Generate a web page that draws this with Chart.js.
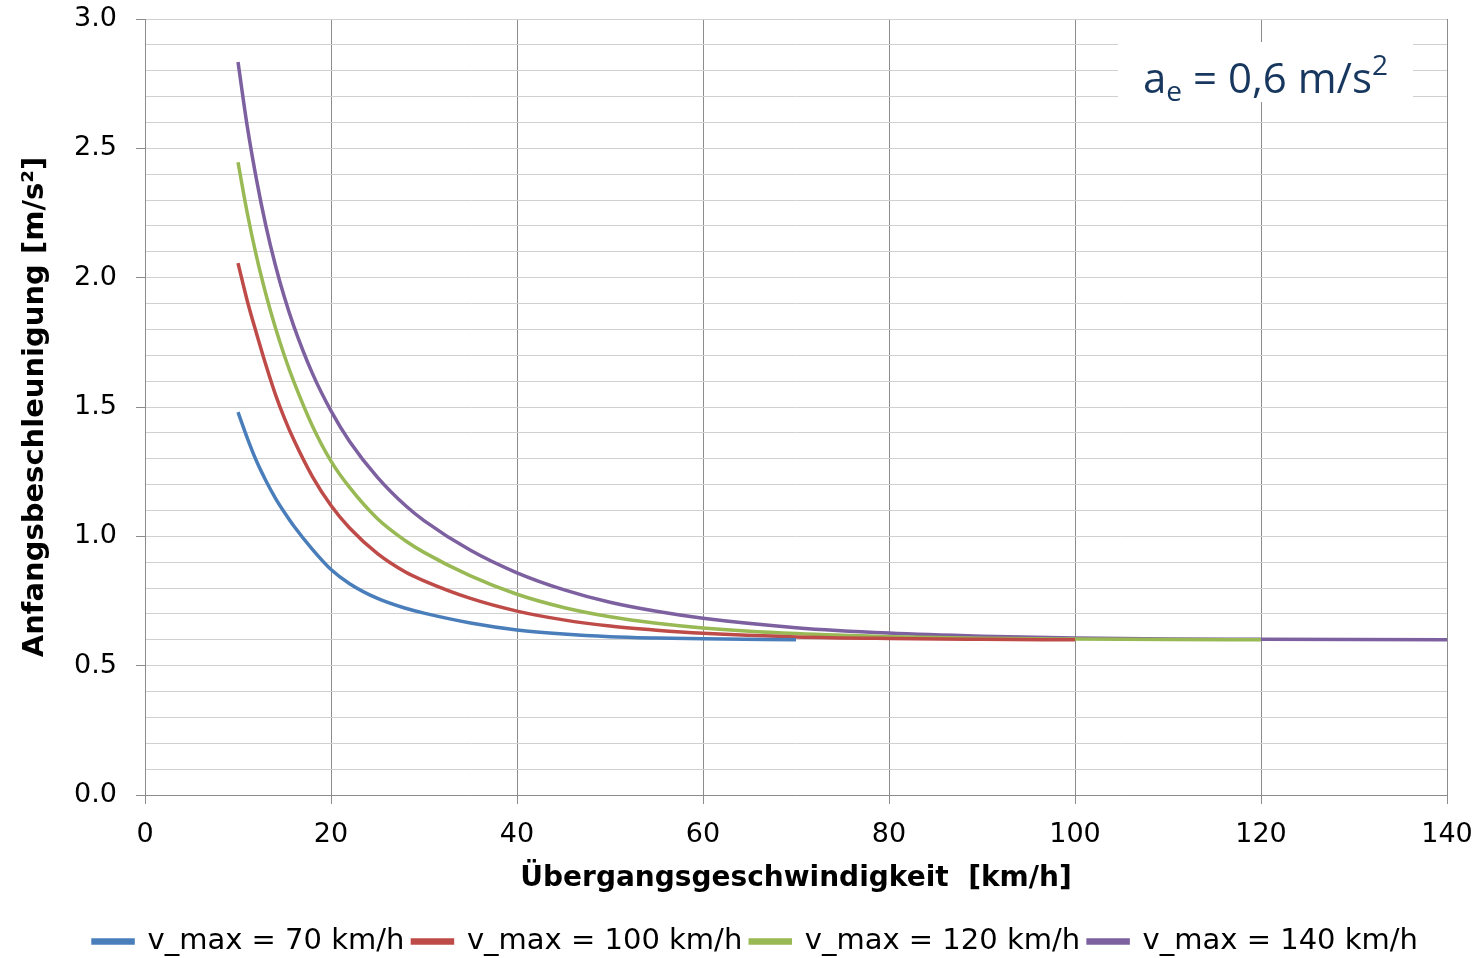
<!DOCTYPE html>
<html lang="de">
  <head>
    <meta charset="UTF-8" />
    <title>Anfangsbeschleunigung</title>
    <script src="https://cdn.jsdelivr.net/npm/chart.js"></script>
    <style>
      body { margin: 0; background: #fff; }
      #wrap { position: relative; width: 1478px; height: 958px; }
      #note {
        position: absolute; left: 1118px; top: 42px; width: 295px; height: 60px;
        background: #fff; color: #17375e; font-family: "Open Sans", sans-serif;
        font-size: 42px; line-height: 70px; text-align: center; overflow: visible;
      }
      #note sub { font-size: 28px; vertical-align: -8px; line-height: 0; }
      #note sup { font-size: 28px; vertical-align: 18px; line-height: 0; }
    </style>
  </head>
  <body>
    <div id="wrap">
      <canvas id="myChart" width="1478" height="958"></canvas>
      <div id="note">a<sub>e</sub> = 0,6 m/s<sup>2</sup></div>
    </div>
    <script>
      // Übergangsgeschwindigkeit [km/h]
      const speeds = [10, 11, 12, 13, 14, 15, 16, 18, 20, 22, 25, 28, 30, 35, 40, 45, 50, 55, 60, 70, 80, 90, 100, 110, 120, 130, 140];

      // Anfangsbeschleunigung [m/s²] je v_max
      const vmax70  = [1.480, 1.380, 1.290, 1.215, 1.149, 1.092, 1.040, 0.950, 0.872, 0.817, 0.760, 0.722, 0.703, 0.665, 0.638, 0.622, 0.612, 0.607, 0.604, 0.600];
      const vmax100 = [2.056, 1.910, 1.783, 1.662, 1.551, 1.456, 1.373, 1.231, 1.119, 1.032, 0.933, 0.862, 0.828, 0.760, 0.711, 0.677, 0.653, 0.637, 0.625, 0.611, 0.605, 0.602, 0.600];
      const vmax120 = [2.446, 2.249, 2.080, 1.936, 1.809, 1.697, 1.598, 1.427, 1.291, 1.189, 1.068, 0.983, 0.938, 0.847, 0.776, 0.725, 0.689, 0.664, 0.646, 0.624, 0.612, 0.606, 0.603, 0.601, 0.600];
      const vmax140 = [2.834, 2.584, 2.377, 2.200, 2.051, 1.923, 1.813, 1.630, 1.485, 1.367, 1.228, 1.119, 1.061, 0.946, 0.859, 0.794, 0.745, 0.710, 0.683, 0.647, 0.626, 0.614, 0.607, 0.603, 0.602, 0.601, 0.600];

      const labels = ["v_max = 70 km/h", "v_max = 100 km/h", "v_max = 120 km/h", "v_max = 140 km/h"];
      const colors = ["#4a7ebb", "#be4b48", "#98b954", "#7d60a0"];
      const series = [vmax70, vmax100, vmax120, vmax140];

      const yTicks = [0, 0.5, 1.0, 1.5, 2.0, 2.5, 3.0];

      function toPoints(values) {
        return values.map((v, i) => ({ x: speeds[i], y: v }));
      }

      const isMajor = (v) => yTicks.some((t) => Math.abs(t - v) < 1e-6);

      // Legende etwas tiefer und nach rechts setzen
      const legendShift = {
        id: "legendShift",
        afterLayout(chart) {
          const lg = chart.legend;
          lg.top += 14;
          lg.bottom += 14;
          lg.left += 32;
          lg.right += 32;
        },
      };

      const ctx = document.getElementById("myChart");
      new Chart(ctx, {
        type: "line",
        data: {
          datasets: series.map((s, i) => ({
            label: labels[i],
            data: toPoints(s),
            borderColor: colors[i],
            backgroundColor: colors[i],
            borderWidth: 3.5,
            pointRadius: 0,
            cubicInterpolationMode: "monotone",
          })),
        },
        options: {
          responsive: false,
          animation: false,
          layout: { padding: { top: 19, right: 31, left: 0, bottom: 6 } },
          plugins: {
            legend: {
              position: "bottom",
              labels: {
                color: "#000",
                font: { family: "DejaVu Sans", size: 29 },
                boxWidth: 40,
                boxHeight: 3,
                padding: 8,
              },
            },
            tooltip: { enabled: false },
          },
          scales: {
            x: {
              type: "linear",
              min: 0,
              max: 140,
              ticks: {
                stepSize: 20,
                color: "#000",
                font: { family: "DejaVu Sans", size: 27 },
                padding: 15,
                maxRotation: 0,
              },
              grid: { color: "#8c8c8c", tickLength: 9, tickColor: "#8c8c8c" },
              border: { color: "#8c8c8c" },
              title: {
                display: true,
                text: "Übergangsgeschwindigkeit  [km/h]",
                color: "#000",
                font: { family: "DejaVu Sans", size: 28, weight: "bold" },
                padding: { top: 4, bottom: 9 },
              },
              afterFit: (scale) => {
                scale.height = 110;
                scale.paddingLeft = 10;
                scale.paddingRight = 10;
              },
            },
            y: {
              min: 0,
              max: 3,
              ticks: {
                stepSize: 0.1,
                autoSkip: false,
                color: "#000",
                font: { family: "DejaVu Sans", size: 27 },
                padding: 19,
                callback: (v) => (isMajor(v) ? v.toFixed(1) : ""),
              },
              grid: {
                color: "#d0d0d0",
                tickLength: 9,
                tickColor: (c) => (c.tick && isMajor(c.tick.value) ? "#8c8c8c" : "rgba(0,0,0,0)"),
              },
              border: { color: "#8c8c8c" },
              title: {
                display: true,
                text: "Anfangsbeschleunigung [m/s²]",
                color: "#000",
                font: { family: "DejaVu Sans", size: 29, weight: "bold" },
                padding: { top: 18, bottom: 0 },
              },
              afterFit: (scale) => {
                scale.width = 145;
                scale.paddingTop = 10;
                scale.paddingBottom = 10;
              },
            },
          },
        },
        plugins: [legendShift],
      });
    </script>
  </body>
</html>
